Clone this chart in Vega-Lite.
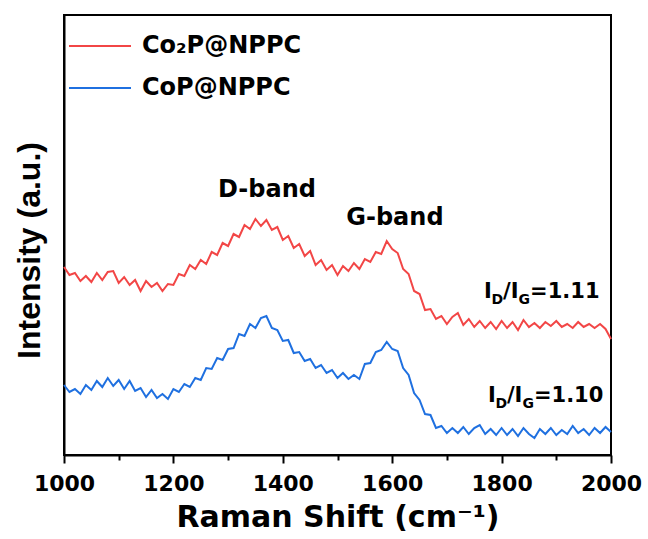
{
  "$schema": "https://vega.github.io/schema/vega-lite/v6.json",
  "width": 547,
  "height": 440,
  "autosize": {"type": "none"},
  "padding": {"left": 64, "top": 15, "right": 37, "bottom": 84},
  "background": "white",
  "config": {"view": {"stroke": "black", "strokeWidth": 2}, "font": "DejaVu Sans", "axis": {"tickWidth": 2, "tickColor": "#000000"}},
  "datasets": {
    "spectra": [
      {"shift":1000,"co2p":188,"cop":70},{"shift":1010,"co2p":180,"cop":63},{"shift":1020,"co2p":182,"cop":66},{"shift":1030,"co2p":174,"cop":61},
      {"shift":1040,"co2p":179,"cop":70},{"shift":1050,"co2p":173,"cop":65},{"shift":1060,"co2p":182,"cop":74},{"shift":1070,"co2p":175,"cop":68},
      {"shift":1080,"co2p":183,"cop":77},{"shift":1090,"co2p":184,"cop":69},{"shift":1100,"co2p":172,"cop":75},{"shift":1110,"co2p":178,"cop":66},
      {"shift":1120,"co2p":170,"cop":74},{"shift":1130,"co2p":175,"cop":64},{"shift":1140,"co2p":164,"cop":67},{"shift":1150,"co2p":174,"cop":58},
      {"shift":1160,"co2p":168,"cop":65},{"shift":1170,"co2p":172,"cop":57},{"shift":1180,"co2p":164,"cop":61},{"shift":1190,"co2p":171,"cop":56},
      {"shift":1200,"co2p":170,"cop":66},{"shift":1210,"co2p":181,"cop":63},{"shift":1220,"co2p":179,"cop":71},{"shift":1230,"co2p":190,"cop":68},
      {"shift":1240,"co2p":186,"cop":77},{"shift":1250,"co2p":195,"cop":75},{"shift":1260,"co2p":191,"cop":87},{"shift":1270,"co2p":203,"cop":86},
      {"shift":1280,"co2p":200,"cop":97},{"shift":1290,"co2p":212,"cop":95},{"shift":1300,"co2p":209,"cop":106},{"shift":1310,"co2p":221,"cop":107},
      {"shift":1320,"co2p":218,"cop":121},{"shift":1330,"co2p":230,"cop":119},{"shift":1340,"co2p":226,"cop":131},{"shift":1350,"co2p":236,"cop":127},
      {"shift":1360,"co2p":229,"cop":137},{"shift":1370,"co2p":235,"cop":139},{"shift":1380,"co2p":225,"cop":127},{"shift":1390,"co2p":228,"cop":125},
      {"shift":1400,"co2p":215,"cop":114},{"shift":1410,"co2p":219,"cop":115},{"shift":1420,"co2p":207,"cop":102},{"shift":1430,"co2p":211,"cop":103},
      {"shift":1440,"co2p":199,"cop":94},{"shift":1450,"co2p":204,"cop":96},{"shift":1460,"co2p":190,"cop":87},{"shift":1470,"co2p":195,"cop":90},
      {"shift":1480,"co2p":185,"cop":82},{"shift":1490,"co2p":190,"cop":85},{"shift":1500,"co2p":180,"cop":77},{"shift":1510,"co2p":189,"cop":82},
      {"shift":1520,"co2p":184,"cop":76},{"shift":1530,"co2p":192,"cop":80},{"shift":1540,"co2p":186,"cop":76},{"shift":1550,"co2p":196,"cop":91},
      {"shift":1560,"co2p":193,"cop":92},{"shift":1570,"co2p":203,"cop":103},{"shift":1580,"co2p":201,"cop":105},{"shift":1590,"co2p":214,"cop":113},
      {"shift":1600,"co2p":206,"cop":106},{"shift":1610,"co2p":202,"cop":104},{"shift":1620,"co2p":186,"cop":87},{"shift":1630,"co2p":181,"cop":80},
      {"shift":1640,"co2p":164,"cop":62},{"shift":1650,"co2p":161,"cop":55},{"shift":1660,"co2p":145,"cop":41},{"shift":1670,"co2p":146,"cop":40},
      {"shift":1680,"co2p":136,"cop":27},{"shift":1690,"co2p":139,"cop":29},{"shift":1700,"co2p":131,"cop":22},{"shift":1710,"co2p":138,"cop":27},
      {"shift":1720,"co2p":142,"cop":22},{"shift":1730,"co2p":130,"cop":28},{"shift":1740,"co2p":136,"cop":21},{"shift":1750,"co2p":128,"cop":27},
      {"shift":1760,"co2p":134,"cop":30},{"shift":1770,"co2p":127,"cop":21},{"shift":1780,"co2p":133,"cop":26},{"shift":1790,"co2p":126,"cop":20},
      {"shift":1800,"co2p":134,"cop":27},{"shift":1810,"co2p":127,"cop":20},{"shift":1820,"co2p":133,"cop":26},{"shift":1830,"co2p":125,"cop":19},
      {"shift":1840,"co2p":135,"cop":27},{"shift":1850,"co2p":128,"cop":21},{"shift":1860,"co2p":132,"cop":17},{"shift":1870,"co2p":127,"cop":26},
      {"shift":1880,"co2p":133,"cop":21},{"shift":1890,"co2p":129,"cop":27},{"shift":1900,"co2p":134,"cop":20},{"shift":1910,"co2p":128,"cop":25},
      {"shift":1920,"co2p":131,"cop":21},{"shift":1930,"co2p":127,"cop":29},{"shift":1940,"co2p":133,"cop":22},{"shift":1950,"co2p":128,"cop":26},
      {"shift":1960,"co2p":131,"cop":20},{"shift":1970,"co2p":127,"cop":27},{"shift":1980,"co2p":131,"cop":22},{"shift":1990,"co2p":126,"cop":28},
      {"shift":2000,"co2p":116,"cop":23}
    ],
    "bands": [
      {"shift": 1371, "intensity": 258, "band": "D-band"},
      {"shift": 1605, "intensity": 230, "band": "G-band"}
    ],
    "ratios": [
      {"shift": 1768, "intensity": 157, "ratio": "=1.11"},
      {"shift": 1775, "intensity": 53, "ratio": "=1.10"}
    ]
  },
  "layer": [
    {
      "data": {"name": "spectra"},
      "transform": [{"fold": ["co2p", "cop"], "as": ["sample", "intensity"]}],
      "mark": {"type": "line", "strokeWidth": 2},
      "encoding": {
        "x": {
          "field": "shift", "type": "quantitative",
          "scale": {"domain": [1000, 2000], "nice": false},
          "title": "Raman Shift (cm⁻¹)",
          "axis": {
            "values": [1000,1100,1200,1300,1400,1500,1600,1700,1800,1900,2000],
            "format": "d",
            "labelExpr": "datum.value % 200 === 0 ? datum.label : ''",
            "ticks": true,
            "tickSize": {"condition": {"test": "datum.value % 200 === 0", "value": 8}, "value": 5},
            "tickWidth": 2, "tickColor": "black",
            "domainColor": "black", "domainWidth": 2,
            "grid": false,
            "labelFont": "DejaVu Sans", "labelFontSize": 22, "labelFontWeight": "bold", "labelColor": "black",
            "labelPadding": 10, "labelFlush": false, "labelOverlap": false, "labelBound": false,
            "titleFont": "DejaVu Sans", "titleFontSize": 30, "titleFontWeight": "bold", "titleColor": "black",
            "titlePadding": 8
          }
        },
        "y": {
          "field": "intensity", "type": "quantitative",
          "scale": {"domain": [0, 440], "nice": false, "zero": false},
          "title": "Intensity (a.u.)",
          "axis": {
            "ticks": false, "labels": false, "grid": false,
            "domainColor": "black", "domainWidth": 2,
            "titleFont": "Liberation Sans", "titleFontSize": 32, "titleFontWeight": "bold", "titleColor": "black",
            "titlePadding": 18, "titleY": 235
          }
        },
        "color": {
          "field": "sample", "type": "nominal",
          "scale": {"domain": ["co2p", "cop"], "range": ["#f24646", "#1f70e0"]},
          "legend": {
            "orient": "none", "legendX": 4, "legendY": 10,
            "title": null,
            "labelExpr": "datum.value === 'co2p' ? 'Co₂P@NPPC' : 'CoP@NPPC'",
            "symbolType": "stroke", "symbolSize": 3844, "symbolStrokeWidth": 2,
            "labelFont": "DejaVu Sans", "labelFontSize": 24, "labelFontWeight": "bold", "labelColor": "black",
            "labelOffset": 10, "rowPadding": 0, "clipHeight": 42, "padding": 0
          }
        }
      }
    },
    {
      "data": {"name": "bands"},
      "mark": {"type": "text", "align": "center", "baseline": "alphabetic", "font": "DejaVu Sans", "fontSize": 24, "fontWeight": "bold", "color": "black"},
      "encoding": {
        "x": {"field": "shift", "type": "quantitative"},
        "y": {"field": "intensity", "type": "quantitative"},
        "text": {"field": "band"}
      }
    },
    {
      "data": {"name": "ratios"},
      "mark": {"type": "text", "align": "left", "baseline": "alphabetic", "font": "DejaVu Sans", "fontSize": 21, "fontWeight": "bold", "color": "black", "dx": 0},
      "encoding": {
        "x": {"field": "shift", "type": "quantitative"},
        "y": {"field": "intensity", "type": "quantitative"},
        "text": {"value": "I"}
      }
    },
    {
      "data": {"name": "ratios"},
      "mark": {"type": "text", "align": "left", "baseline": "alphabetic", "font": "DejaVu Sans", "fontSize": 14, "fontWeight": "bold", "color": "black", "dx": 7.5, "dy": 6},
      "encoding": {
        "x": {"field": "shift", "type": "quantitative"},
        "y": {"field": "intensity", "type": "quantitative"},
        "text": {"value": "D"}
      }
    },
    {
      "data": {"name": "ratios"},
      "mark": {"type": "text", "align": "left", "baseline": "alphabetic", "font": "DejaVu Sans", "fontSize": 21, "fontWeight": "bold", "color": "black", "dx": 19},
      "encoding": {
        "x": {"field": "shift", "type": "quantitative"},
        "y": {"field": "intensity", "type": "quantitative"},
        "text": {"value": "/I"}
      }
    },
    {
      "data": {"name": "ratios"},
      "mark": {"type": "text", "align": "left", "baseline": "alphabetic", "font": "DejaVu Sans", "fontSize": 14, "fontWeight": "bold", "color": "black", "dx": 34.5, "dy": 6},
      "encoding": {
        "x": {"field": "shift", "type": "quantitative"},
        "y": {"field": "intensity", "type": "quantitative"},
        "text": {"value": "G"}
      }
    },
    {
      "data": {"name": "ratios"},
      "mark": {"type": "text", "align": "left", "baseline": "alphabetic", "font": "DejaVu Sans", "fontSize": 21, "fontWeight": "bold", "color": "black", "dx": 46},
      "encoding": {
        "x": {"field": "shift", "type": "quantitative"},
        "y": {"field": "intensity", "type": "quantitative"},
        "text": {"field": "ratio"}
      }
    }
  ]
}
